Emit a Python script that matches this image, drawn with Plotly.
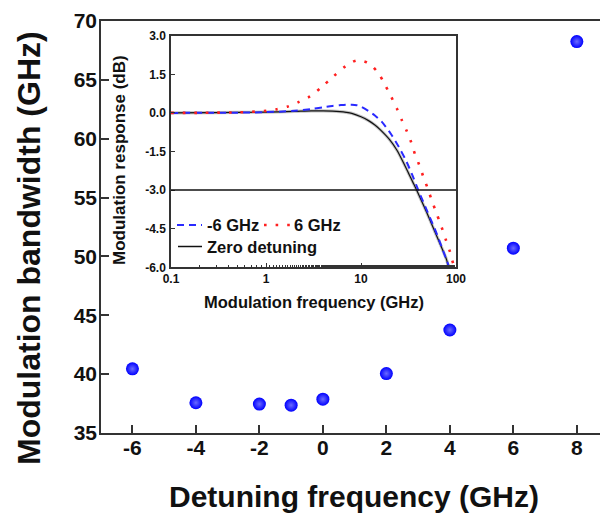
import plotly.graph_objects as go

# ---------------- data ----------------
detuning = [-6, -4, -2, -1, 0, 2, 4, 6, 8]
bandwidth = [40.45, 37.57, 37.46, 37.36, 37.87, 40.05, 43.75, 50.7, 68.25]

x_tickvals = [-6, -4, -2, 0, 2, 4, 6, 8]
x_ticktext = ["-6", "-4", "-2", "0", "2", "4", "6", "8"]
y_tickvals = [35, 40, 45, 50, 55, 60, 65, 70]
y_ticktext = ["35", "40", "45", "50", "55", "60", "65", "70"]

# inset: modulation response curves
f_zero = [0.1, 0.3, 1, 2, 3, 4, 5, 6, 7, 8, 10, 12, 14, 16, 20, 24, 28, 32, 35, 38.5, 45, 50, 60, 70, 80, 83]
db_zero = [0.0, 0.01, 0.03, 0.06, 0.08, 0.08, 0.07, 0.05, 0.02, -0.02, -0.15, -0.3, -0.47, -0.66, -1.04, -1.46, -1.94, -2.38, -2.68, -3.0, -3.55, -3.93, -4.62, -5.2, -5.73, -6.0]

f_m6 = [0.1, 0.5, 1, 2, 3, 4, 5, 6, 7, 8, 9, 10, 12, 14, 16.5, 21, 25.7, 30, 35, 40.1, 45, 50, 62.6, 70, 80, 85]
db_m6 = [0.0, 0.01, 0.03, 0.08, 0.15, 0.22, 0.27, 0.3, 0.32, 0.32, 0.3, 0.24, 0.07, -0.1, -0.34, -0.86, -1.4, -1.88, -2.45, -3.0, -3.44, -3.84, -4.69, -5.17, -5.74, -6.0]

f_p6 = [0.1, 0.2, 0.3, 0.5, 0.7, 1, 1.3, 1.7, 2.2, 2.9, 3.9, 5.1, 6.8, 9, 11.9, 15.2, 17.9, 20.7, 23.8, 26.8, 30.2, 33.3, 37, 41.1, 45.3, 50.3, 55.5, 61.5, 67.9, 72.4, 78.5, 86.5, 93.7, 97.5]
db_p6 = [0.0, 0.0, 0.01, 0.02, 0.04, 0.08, 0.14, 0.25, 0.42, 0.64, 1.02, 1.41, 1.8, 2.04, 1.94, 1.55, 1.09, 0.64, 0.18, -0.27, -0.69, -1.08, -1.6, -2.03, -2.48, -2.93, -3.39, -3.84, -4.27, -4.56, -4.95, -5.4, -5.86, -5.95]

threshold_db = -3.0
inset_xtickvals = [0.1, 1, 10, 100]
inset_xticktext = ["0.1", "1", "10", "100"]
inset_ytickvals = [3.0, 1.5, 0.0, -1.5, -3.0, -4.5, -6.0]
inset_yticktext = ["3.0", "1.5", "0.0", "-1.5", "-3.0", "-4.5", "-6.0"]

legend_labels = ["-6 GHz", "6 GHz", "Zero detuning"]

# ---------------- layout helpers ----------------
W, H = 600, 515
L, R, T, B = 101, 0, 21, 82
PW, PH = W - L - R, H - T - B


def px(x):
    return (x - L) / PW


def py(y):
    return (H - B - y) / PH


FONT = "Liberation Sans, Arial, Helvetica, sans-serif"
TXT = "#111111"
AX = "#333333"

fig = go.Figure()

fig.add_trace(go.Scatter(
    x=detuning, y=bandwidth, mode="markers", xaxis="x", yaxis="y",
    marker=dict(size=13, color="#0000ff",
                gradient=dict(type="radial", color="#6a6aff"),
                line=dict(width=0)),
    showlegend=False, hoverinfo="skip"))

# inset curves
fig.add_trace(go.Scatter(x=f_zero, y=db_zero, mode="lines", xaxis="x2", yaxis="y2",
                         line=dict(color="#c4c4c4", width=3.2, shape="spline", smoothing=0.8),
                         showlegend=False, hoverinfo="skip"))
fig.add_trace(go.Scatter(x=f_zero, y=db_zero, mode="lines", xaxis="x2", yaxis="y2",
                         line=dict(color="#111111", width=1.2, shape="spline", smoothing=0.8),
                         showlegend=False, hoverinfo="skip"))
fig.add_trace(go.Scatter(x=f_m6, y=db_m6, mode="lines", xaxis="x2", yaxis="y2",
                         line=dict(color="#2a2aff", width=2, dash="7px,5px", shape="spline", smoothing=0.8),
                         showlegend=False, hoverinfo="skip"))
fig.add_trace(go.Scatter(x=f_p6, y=db_p6, mode="lines", xaxis="x2", yaxis="y2",
                         line=dict(color="#ff2020", width=2.6, dash="2.6px,9px", shape="spline", smoothing=0.8),
                         showlegend=False, hoverinfo="skip"))

ins_x0, ins_x1 = px(171), px(456)
ins_y0, ins_y1 = py(267.3), py(35.7)

fig.update_layout(
    width=W, height=H,
    margin=dict(l=L, r=R, t=T, b=B, pad=0, autoexpand=False),
    paper_bgcolor="white", plot_bgcolor="white",
    font=dict(family=FONT, color=TXT, weight="bold"),
    xaxis=dict(domain=[0, 1], range=[-6.99, 8.73], showgrid=False, zeroline=False, automargin=False,
               showline=True, linecolor=AX, linewidth=1.5, mirror=True,
               ticks="inside", ticklen=8, tickwidth=1.5, tickcolor=AX,
               tickvals=x_tickvals, ticktext=x_ticktext,
               tickfont=dict(size=21, family=FONT, color=TXT, weight="bold"),
               ticklabelstandoff=-5),
    yaxis=dict(domain=[0, 1], range=[35, 70], showgrid=False, zeroline=False, automargin=False,
               showline=True, linecolor=AX, linewidth=1.5,
               ticks="inside", ticklen=8, tickwidth=1.5, tickcolor=AX,
               tickvals=y_tickvals, ticktext=y_ticktext,
               tickfont=dict(size=21, family=FONT, color=TXT, weight="bold"),
               ticklabelstandoff=-2),
    xaxis2=dict(domain=[ins_x0, ins_x1], anchor="y2", type="log", range=[-1, 2], automargin=False,
                showgrid=False, zeroline=False,
                showline=True, linecolor=AX, linewidth=1.5, mirror=True,
                ticks="inside", ticklen=5, tickwidth=1.2, tickcolor=AX,
                tickvals=inset_xtickvals, ticktext=inset_xticktext,
                minor=dict(ticks="inside", ticklen=3, tickwidth=1, tickcolor=AX, showgrid=False),
                tickfont=dict(size=12, family=FONT, color=TXT, weight="bold"),
                ticklabelstandoff=0),
    yaxis2=dict(domain=[ins_y0, ins_y1], anchor="x2", range=[-6, 3], automargin=False,
                showgrid=False, zeroline=False,
                showline=True, linecolor=AX, linewidth=1.5, mirror=True,
                ticks="inside", ticklen=4, tickwidth=1.2, tickcolor=AX,
                tickvals=inset_ytickvals, ticktext=inset_yticktext,
                tickfont=dict(size=12, family=FONT, color=TXT, weight="bold"),
                ticklabelstandoff=1),
)

# -3 dB reference line
fig.add_shape(type="line", xref="x2 domain", x0=0, x1=1, yref="y2",
              y0=threshold_db, y1=threshold_db, line=dict(color="#111111", width=1.5))

ann = []
# main axis titles
ann.append(dict(text="Detuning frequency (GHz)", x=px(354), y=py(496), xref="paper", yref="paper",
                xanchor="center", yanchor="middle", showarrow=False,
                font=dict(size=30, family=FONT, color=TXT, weight="bold")))
ann.append(dict(text="Modulation bandwidth (GHz)", x=px(29), y=py(248), xref="paper", yref="paper",
                xanchor="center", yanchor="middle", showarrow=False, textangle=-90,
                font=dict(size=32, family=FONT, color=TXT, weight="bold")))
# inset axis titles
ann.append(dict(text="Modulation frequency (GHz)", x=px(314), y=py(302), xref="paper", yref="paper",
                xanchor="center", yanchor="middle", showarrow=False,
                font=dict(size=16.5, family=FONT, color=TXT, weight="bold")))
ann.append(dict(text="Modulation response (dB)", x=px(120), y=py(160), xref="paper", yref="paper",
                xanchor="center", yanchor="middle", showarrow=False, textangle=-90,
                font=dict(size=17, family=FONT, color=TXT, weight="bold")))

# manual legend
lg_font = dict(size=16.5, family=FONT, color=TXT, weight="bold")
fig.add_shape(type="line", xref="paper", yref="paper", x0=px(177), x1=px(202), y0=py(225), y1=py(225),
              line=dict(color="#2a2aff", width=2, dash="7px,5px"))
ann.append(dict(text=legend_labels[0], x=px(205), y=py(225), xref="paper", yref="paper",
                xanchor="left", yanchor="middle", showarrow=False, font=lg_font))
fig.add_shape(type="line", xref="paper", yref="paper", x0=px(264), x1=px(291), y0=py(225), y1=py(225),
              line=dict(color="#ff2020", width=2.6, dash="2.6px,9px"))
ann.append(dict(text=legend_labels[1], x=px(292), y=py(225), xref="paper", yref="paper",
                xanchor="left", yanchor="middle", showarrow=False, font=lg_font))
fig.add_shape(type="line", xref="paper", yref="paper", x0=px(178), x1=px(202), y0=py(246.5), y1=py(246.5),
              line=dict(color="#111111", width=1.5))
ann.append(dict(text=legend_labels[2], x=px(205), y=py(246.5), xref="paper", yref="paper",
                xanchor="left", yanchor="middle", showarrow=False, font=lg_font))

fig.update_layout(annotations=ann)

fig.write_html("out.html")
